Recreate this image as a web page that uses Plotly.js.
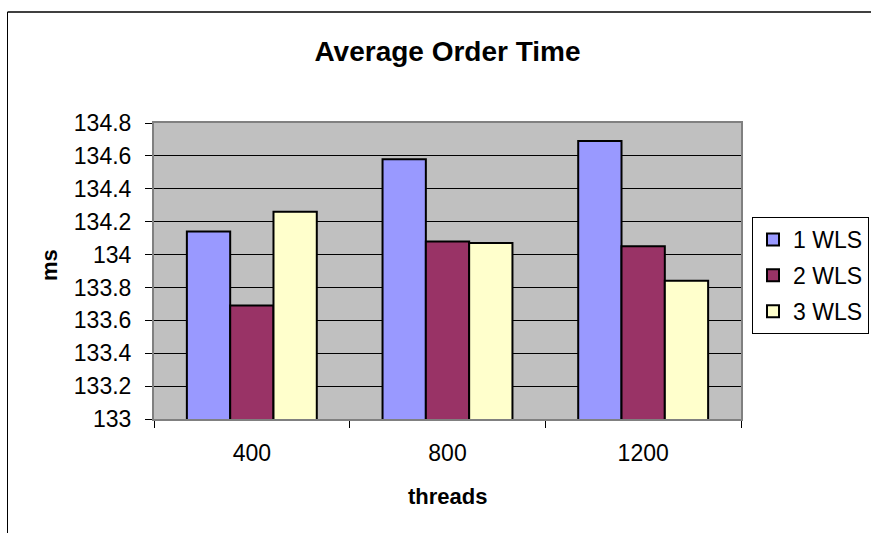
<!DOCTYPE html>
<html>
<head>
<meta charset="utf-8">
<script src="https://cdn.plot.ly/plotly-3.0.1.min.js"></script>
<style>
  html, body { margin: 0; padding: 0; background: #fff; }
  #chart { width: 871px; height: 533px; }
</style>
</head>
<body>
<div id="chart"></div>
<script>
// Thread counts on the x axis
const threads = ['400', '800', '1200'];

// Average order time (ms) per number of WLS instances
const wls1 = [134.14, 134.58, 134.69];
const wls2 = [133.69, 134.08, 134.05];
const wls3 = [134.26, 134.07, 133.84];

const seriesNames = ['1 WLS', '2 WLS', '3 WLS'];
const seriesColors = ['#9999FF', '#993366', '#FFFFCC'];
const seriesValues = [wls1, wls2, wls3];

const FONT = 'Liberation Sans, Arial, Helvetica, sans-serif';

const traces = seriesValues.map((vals, i) => ({
  type: 'bar',
  name: seriesNames[i],
  x: threads,
  y: vals,
  legendgroup: 'g' + i,
  marker: { color: seriesColors[i], line: { color: '#000000', width: 2 } },
  hoverinfo: 'x+y+name'
}));

// plot area in pixels: x 154..741, y 123..419
const W = 871, H = 533;
const L = 154, R = 741, T = 123, B = 419;
const px = v => (v - L) / (R - L);
const py = v => (B - v) / (B - T);

const layout = {
  width: W,
  height: H,
  margin: { l: L, r: W - R, t: T, b: H - B, autoexpand: false },
  paper_bgcolor: '#ffffff',
  plot_bgcolor: '#C0C0C0',
  barmode: 'group',
  bargap: 0.336,
  bargroupgap: 0,
  font: { family: FONT, color: '#000000', size: 22 },
  title: {
    text: '<b>Average Order Time</b>',
    font: { family: FONT, size: 28, color: '#000000' },
    xref: 'paper', x: 0.5, xanchor: 'center',
    yref: 'container', y: 1 - 51 / H, yanchor: 'middle'
  },
  xaxis: {
    type: 'category',
    tickson: 'boundaries',
    ticks: 'outside', ticklen: 7, tickcolor: '#000000', tickwidth: 1,
    showline: true, linecolor: '#808080', linewidth: 2, mirror: true,
    showgrid: false, zeroline: false,
    tickfont: { family: FONT, size: 23, color: '#000000' },
    ticklabelstandoff: 12,
    fixedrange: true
  },
  yaxis: {
    range: [133, 134.8],
    dtick: 0.2, tick0: 133,
    ticks: 'outside', ticklen: 7, tickcolor: '#000000', tickwidth: 1,
    showline: true, linecolor: '#808080', linewidth: 2, mirror: true,
    showgrid: true, gridcolor: '#000000', gridwidth: 1,
    zeroline: false,
    tickfont: { family: FONT, size: 23, color: '#000000' },
    ticklabelstandoff: 9,
    fixedrange: true
  },
  legend: {
    x: px(752), xanchor: 'left',
    y: py(217), yanchor: 'top',
    bgcolor: '#ffffff',
    bordercolor: '#000000', borderwidth: 1,
    font: { family: FONT, size: 23, color: '#000000' },
    traceorder: 'grouped',
    tracegroupgap: 3,
    itemclick: false, itemdoubleclick: false
  },
  annotations: [
    {
      text: '<b>threads</b>', showarrow: false,
      xref: 'paper', yref: 'paper',
      x: 0.5, y: py(496), xanchor: 'center', yanchor: 'middle',
      font: { family: FONT, size: 22, color: '#000000' }
    },
    {
      text: '<b>ms</b>', showarrow: false, textangle: -90,
      xref: 'paper', yref: 'paper',
      x: px(49), y: py(265), xanchor: 'center', yanchor: 'middle',
      font: { family: FONT, size: 22, color: '#000000' }
    }
  ],
  shapes: [
    // chart-area frame (top and left edges)
    { type: 'line', xref: 'paper', yref: 'paper', x0: px(7.5), x1: px(880), y0: py(12), y1: py(12),
      line: { color: '#404040', width: 2 } },
    { type: 'line', xref: 'paper', yref: 'paper', x0: px(7.5), x1: px(7.5), y0: py(12), y1: py(540),
      line: { color: '#000000', width: 1 } }
  ],
  showlegend: true,
  hovermode: 'closest'
};

Plotly.newPlot('chart', traces, layout, { displayModeBar: false });
</script>
</body>
</html>
